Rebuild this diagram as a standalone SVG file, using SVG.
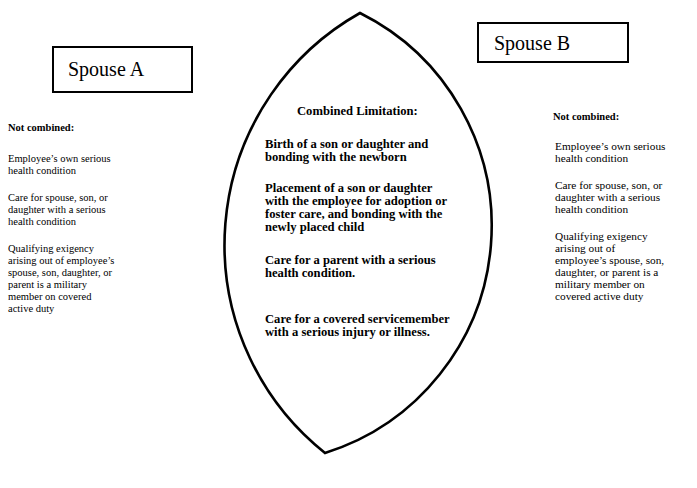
<svg xmlns="http://www.w3.org/2000/svg" width="697" height="488" viewBox="0 0 697 488">
<style>
.bg{fill:#fff}
.box{fill:#fff;stroke:#000;stroke-width:2}
.lens{fill:none;stroke:#000;stroke-width:2.6;stroke-linejoin:miter}
text{font-family:"Liberation Serif","Times New Roman","DejaVu Serif",serif;fill:#000}
.title{font-size:20px}
.hd{font-size:10.5px;font-weight:bold}
.t{font-size:10.5px}
.tr{font-size:11.3px}
.c{font-size:12.6px;font-weight:bold}
</style>
<rect class="bg" x="0" y="0" width="697" height="488"/>
<g id="spouseA">
<rect class="box" x="53" y="47" width="139" height="45"/>
<text class="title" x="68" y="76">Spouse A</text>
</g>
<g id="spouseB">
<rect class="box" x="478" y="23" width="150" height="39"/>
<text class="title" x="494" y="50">Spouse B</text>
</g>
<g id="combined">
<path class="lens" d="M360,13 A266,266 0 0 0 325,453 A238,238 0 0 0 360,13 Z"/>
</g>
<g id="leftText">
<text class="hd" x="8" y="131">Not combined:</text>
<text class="t" x="8" y="162">Employee’s own serious</text>
<text class="t" x="8" y="174">health condition</text>
<text class="t" x="8" y="201">Care for spouse, son, or</text>
<text class="t" x="8" y="213">daughter with a serious</text>
<text class="t" x="8" y="225">health condition</text>
<text class="t" x="8" y="252">Qualifying exigency</text>
<text class="t" x="8" y="264">arising out of employee’s</text>
<text class="t" x="8" y="276">spouse, son, daughter, or</text>
<text class="t" x="8" y="288">parent is a military</text>
<text class="t" x="8" y="300">member on covered</text>
<text class="t" x="8" y="312">active duty</text>
</g>
<g id="centerText">
<text class="c" x="297" y="115">Combined Limitation:</text>
<text class="c" x="265" y="148">Birth of a son or daughter and</text>
<text class="c" x="265" y="161">bonding with the newborn</text>
<text class="c" x="265" y="192">Placement of a son or daughter</text>
<text class="c" x="265" y="205">with the employee for adoption or</text>
<text class="c" x="265" y="218">foster care, and bonding with the</text>
<text class="c" x="265" y="231">newly placed child</text>
<text class="c" x="265" y="264">Care for a parent with a serious</text>
<text class="c" x="265" y="277">health condition.</text>
<text class="c" x="265" y="323">Care for a covered servicemember</text>
<text class="c" x="265" y="336">with a serious injury or illness.</text>
</g>
<g id="rightText">
<text class="hd" x="553" y="120">Not combined:</text>
<text class="tr" x="555" y="150">Employee’s own serious</text>
<text class="tr" x="555" y="162">health condition</text>
<text class="tr" x="555" y="189">Care for spouse, son, or</text>
<text class="tr" x="555" y="201">daughter with a serious</text>
<text class="tr" x="555" y="213">health condition</text>
<text class="tr" x="555" y="240">Qualifying exigency</text>
<text class="tr" x="555" y="252">arising out of</text>
<text class="tr" x="555" y="264">employee’s spouse, son,</text>
<text class="tr" x="555" y="276">daughter, or parent is a</text>
<text class="tr" x="555" y="288">military member on</text>
<text class="tr" x="555" y="300">covered active duty</text>
</g>
<g id="connectors"></g>
</svg>
